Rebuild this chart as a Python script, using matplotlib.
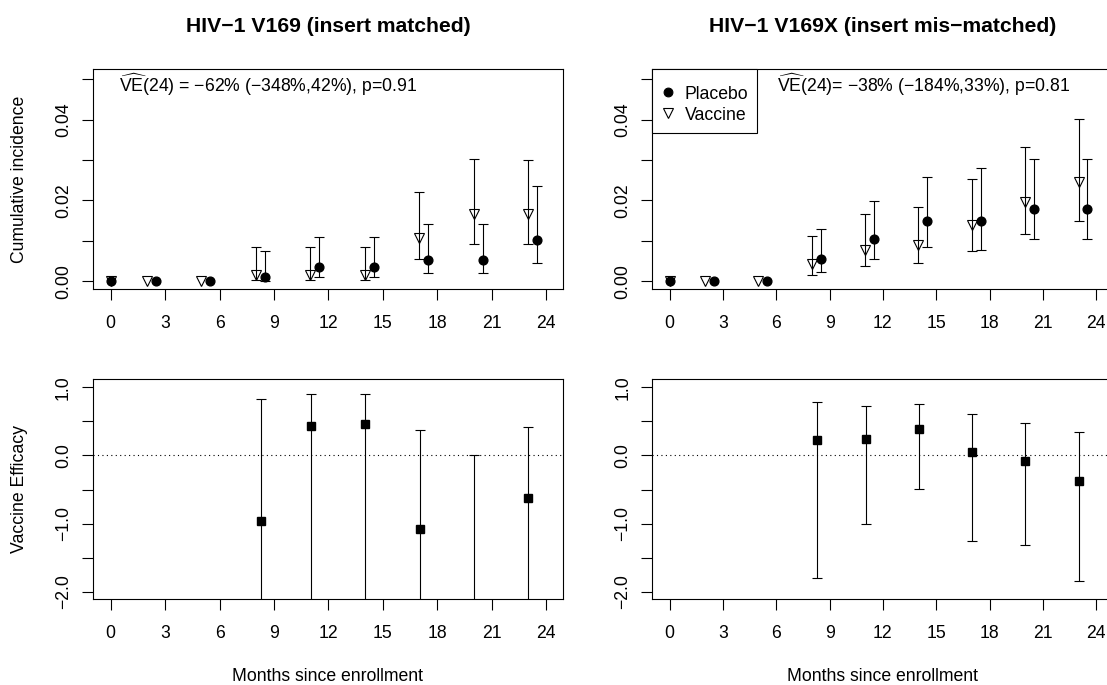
import numpy as np
import matplotlib
matplotlib.use('Agg')
import matplotlib.pyplot as plt
from matplotlib.patches import Rectangle

plt.rcParams['font.family'] = ['Liberation Sans', 'DejaVu Sans']
plt.rcParams['mathtext.fontset'] = 'custom'
plt.rcParams['mathtext.rm'] = 'Liberation Sans'
plt.rcParams['mathtext.it'] = 'Liberation Sans:italic'
plt.rcParams['mathtext.bf'] = 'Liberation Sans:bold'

nan = np.nan

# months of the visits; vaccine and placebo are drawn side by side
months_vac = [0, 2, 5, 8, 11, 14, 17, 20, 23]
months_pla = [0, 2.5, 5.5, 8.5, 11.5, 14.5, 17.5, 20.5, 23.5]

# HIV-1 V169 (insert matched)
vac_m = [0, 0, 0, 0.0016, 0.0016, 0.0016, 0.0108, 0.0166, 0.0166]
vac_m_lo = [nan, nan, nan, 0.0004, 0.0004, 0.0004, 0.0054, 0.0093, 0.0092]
vac_m_hi = [nan, nan, nan, 0.0084, 0.0084, 0.0085, 0.0220, 0.0302, 0.0301]
pla_m = [0, 0, 0, 0.0010, 0.0036, 0.0036, 0.0052, 0.0052, 0.0102]
pla_m_lo = [nan, nan, nan, 0.0000, 0.0011, 0.0011, 0.0020, 0.0020, 0.0045]
pla_m_hi = [nan, nan, nan, 0.0075, 0.0110, 0.0110, 0.0141, 0.0141, 0.0235]

# HIV-1 V169X (insert mis-matched)
vac_x = [0, 0, 0, 0.0043, 0.0078, 0.0090, 0.0139, 0.0197, 0.0246]
vac_x_lo = [nan, nan, nan, 0.0016, 0.0038, 0.0045, 0.0076, 0.0116, 0.0148]
vac_x_hi = [nan, nan, nan, 0.0112, 0.0166, 0.0185, 0.0254, 0.0333, 0.0401]
pla_x = [0, 0, 0, 0.0055, 0.0104, 0.0148, 0.0148, 0.0178, 0.0178]
pla_x_lo = [nan, nan, nan, 0.0024, 0.0055, 0.0086, 0.0078, 0.0105, 0.0105]
pla_x_hi = [nan, nan, nan, 0.0129, 0.0199, 0.0259, 0.0279, 0.0302, 0.0302]

# vaccine efficacy by month
ve_months = [8.3, 11.05, 14.03, 17.02, 20.01, 23.0]
ve_m = [-0.956, 0.426, 0.456, -1.074, -2.19, -0.618]
ve_m_lo = [-9.0, -8.0, -8.0, -7.0, -6.5, -5.0]
ve_m_hi = [0.824, 0.907, 0.907, 0.377, 0.0, 0.42]
ve_x = [0.230, 0.245, 0.392, 0.054, -0.088, -0.368]
ve_x_lo = [-1.804, -1.005, -0.490, -1.25, -1.309, -1.838]
ve_x_hi = [0.789, 0.721, 0.755, 0.613, 0.480, 0.338]

titles = ['HIV\u22121 V169 (insert matched)', 'HIV\u22121 V169X (insert mis\u2212matched)']
ve_text = ['$\\widehat{\\mathrm{VE}}$(24) = \u221262% (\u2212348%,42%), p=0.91',
           '$\\widehat{\\mathrm{VE}}$(24)= \u221238% (\u2212184%,33%), p=0.81']

W, H = 1107, 685
FS = 12.7
LW = 0.8

fig = plt.figure(figsize=(W / 100, H / 100), dpi=100)


def px_axes(x0, y0, x1, y1):
    return fig.add_axes([x0 / W, 1 - y1 / H, (x1 - x0) / W, (y1 - y0) / H])


def style(ax):
    for s in ax.spines.values():
        s.set_linewidth(LW)
    ax.tick_params(direction='out', length=7.7, width=LW, labelsize=FS)
    ax.tick_params(axis='x', pad=11)
    ax.tick_params(axis='y', pad=7.5)
    ax.set_xlim(-0.97, 24.9)
    ax.set_xticks(range(0, 25, 3))
    for lab in ax.get_yticklabels():
        lab.set_rotation(90)
        lab.set_va('center')


def ftext(x, y, s, **kw):
    fig.text(x / W, 1 - y / H, s, fontsize=kw.pop('fontsize', FS), **kw)


panels = [
    (93, 562.7, vac_m, vac_m_lo, vac_m_hi, pla_m, pla_m_lo, pla_m_hi, ve_m, ve_m_lo, ve_m_hi, 119.3),
    (652.3, 1112.3, vac_x, vac_x_lo, vac_x_hi, pla_x, pla_x_lo, pla_x_hi, ve_x, ve_x_lo, ve_x_hi, 776.7),
]

for i, (x0, x1, vac, vlo, vhi, pla, plo, phi, ve, elo, ehi, tx) in enumerate(panels):
    vac, vlo, vhi = np.array(vac), np.array(vlo), np.array(vhi)
    pla, plo, phi = np.array(pla), np.array(plo), np.array(phi)

    ax = px_axes(x0, 69, x1, 289)
    ax.errorbar(months_vac, vac, yerr=[vac - vlo, vhi - vac], fmt='none',
                ecolor='black', elinewidth=LW, capsize=3.6, capthick=LW)
    ax.errorbar(months_pla, pla, yerr=[pla - plo, phi - pla], fmt='none',
                ecolor='black', elinewidth=LW, capsize=3.6, capthick=LW)
    ax.plot(months_pla, pla, 'o', color='black', ms=6.3, zorder=3)
    ax.plot(months_vac, vac, 'v', mfc='none', mec='black', mew=LW, ms=7.5, zorder=4)
    ax.set_ylim(-0.0019, 0.0525)
    ax.set_yticks(np.arange(0, 0.051, 0.01))
    ax.set_yticklabels(['0.00', '', '0.02', '', '0.04', ''])
    style(ax)
    if i == 1:
        # R-style legend box in the top-left corner
        aw, ah = x1 - x0, 220
        ax.add_patch(Rectangle((0, 1 - 64 / ah), 104.7 / aw, 64 / ah, transform=ax.transAxes,
                               facecolor='white', edgecolor='black', lw=LW, zorder=5, clip_on=False))
        for k, (lab, mk, mfc) in enumerate([('Placebo', 'o', 'black'), ('Vaccine', 'v', 'none')]):
            yy = 1 - (23.3 + 21 * k) / ah
            ax.plot([15.4 / aw], [yy], mk, mfc=mfc, mec='black', mew=LW,
                    ms=6.3 if mk == 'o' else 7.5, transform=ax.transAxes, zorder=6, clip_on=False)
            ax.text(32.7 / aw, yy, lab, transform=ax.transAxes, fontsize=FS,
                    va='center_baseline', ha='left', zorder=6)
    ftext(tx, 92, ve_text[i], va='baseline')
    ftext((x0 + x1) / 2, 32.3, titles[i], fontsize=15.2, fontweight='bold',
          ha='center', va='baseline')

    ax2 = px_axes(x0, 379.3, x1, 599.3)
    ve_arr, elo, ehi = np.array(ve), np.array(elo), np.array(ehi)
    ax2.axhline(0, color='black', lw=LW, ls=(0, (1, 3)))
    ax2.errorbar(ve_months, ve_arr, yerr=[ve_arr - elo, ehi - ve_arr], fmt='none',
                 ecolor='black', elinewidth=LW, capsize=3.6, capthick=LW)
    ax2.plot(ve_months, ve_arr, 's', color='black', ms=5.5, zorder=3)
    ax2.set_ylim(-2.11, 1.117)
    ax2.set_yticks(np.arange(-2, 1.01, 0.5))
    ax2.set_yticklabels(['\u22122.0', '', '\u22121.0', '', '0.0', '', '1.0'])
    style(ax2)
    ftext((x0 + x1) / 2, 681, 'Months since enrollment', ha='center', va='baseline')

ftext(20, 179, 'Cumulative incidence', rotation=90, ha='center', va='center')
ftext(20, 489, 'Vaccine Efficacy', rotation=90, ha='center', va='center')

fig.savefig('out.png', dpi=100)
